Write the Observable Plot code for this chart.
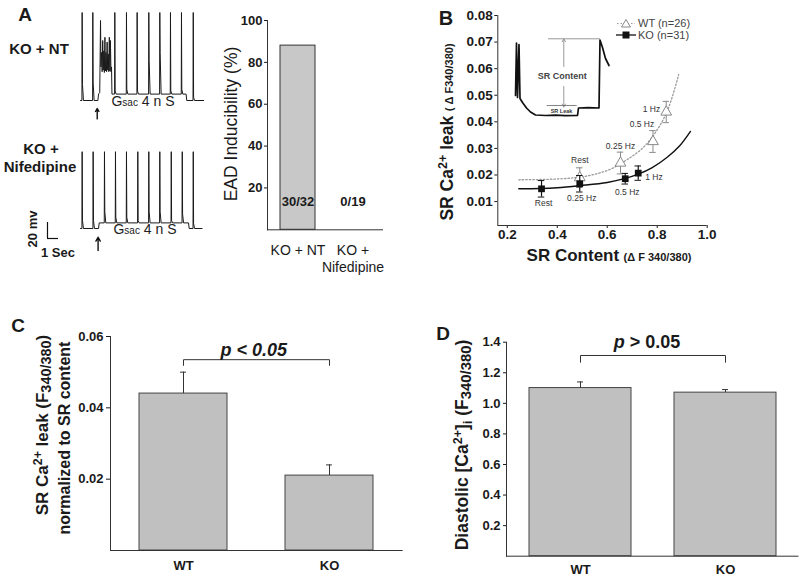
<!DOCTYPE html>
<html><head><meta charset="utf-8">
<script src="https://cdn.jsdelivr.net/npm/d3@7"></script>
<script src="https://cdn.jsdelivr.net/npm/@observablehq/plot@0.6"></script>
<style>
body{margin:0;background:#fff;}
#fig{position:relative;width:800px;height:580px;overflow:hidden;font-family:"Liberation Sans",Arial,sans-serif;color:#1a1a1a;background:#fff;}
.lbl{position:absolute;white-space:nowrap;line-height:1;}
.ctr{transform:translate(-50%,-50%);}
.rot{transform:translate(-50%,-50%) rotate(-90deg);}
.sup{font-size:0.72em;position:relative;top:-0.5em;}
.sub{font-size:0.85em;position:relative;top:0.2em;}
</style></head><body><div id="fig"></div>
<script>
// ---------- Panel A: action potential traces ----------
const ntSpikeTimes = [0.15, 1.12, 3.12, 4.18, 5.15, 6.21, 7.21, 8.18, 9.18, 10.25];
const ntAfterPeaks = [-60, -58, -68, -66, -68, -30, -20, -68, -66, -76];
const ntBurstT = [1.75, 1.82, 1.86, 1.92, 1.97, 2.02, 2.07, 2.12, 2.17, 2.22, 2.27, 2.32, 2.37, 2.42, 2.47, 2.52, 2.57, 2.62, 2.67, 2.72, 2.77, 2.82, 2.86];
const ntBurstV = [-70, 20, -38, -20, -44, -5, -42, -18, -45, -1, -43, -20, -44, -7, -42, -22, -44, -1, -43, -5, -44, -38, -72];
const ntPeak = 30, ntRest = -80, ntGsacLevel = -72, ntGsacOn = 1.58, ntGsacOff = 9.6, ntEnd = 11.2;

const nifSpikeTimes = [0.15, 1.15, 2.18, 3.18, 4.18, 5.21, 6.21, 7.21, 8.25, 9.25, 10.25];
const nifAfterPeaks = [-70, -70, -59, -66, -66, -70, -59, -59, -70, -62, -74];
const nifPeak = 16, nifRest = -80, nifGsacLevel = -73, nifGsacOn = 1.64, nifGsacOff = 9.82, nifEnd = 11.05;

// ---------- Panel A: EAD inducibility ----------
const eadGroups = ["KO + NT", "KO + Nifedipine"];
const eadTickLabels = ["KO + NT", "KO +\nNifedipine"];
const eadPercent = [88, 0];
const eadCounts = ["30/32", "0/19"];
const eadTicks = [20, 40, 60, 80, 100];

// ---------- Panel B: leak vs SR content ----------
const rateLabels = ["Rest", "0.25 Hz", "0.5 Hz", "1 Hz"];
const koSRContent = [0.337, 0.49, 0.672, 0.724];
const koLeak = [0.0148, 0.0167, 0.0186, 0.0207];
const koLeakErr = [0.0031, 0.0031, 0.002, 0.0027];
const wtSRContent = [0.49, 0.653, 0.783, 0.836];
const wtLeak = [0.019, 0.0245, 0.0326, 0.0437];
const wtLeakErr = [0.0037, 0.0041, 0.0041, 0.004];
const koFitX = [0.246, 0.33, 0.4, 0.49, 0.6, 0.672, 0.724, 0.78, 0.84, 0.89, 0.933];
const koFitY = [0.0148, 0.0149, 0.0152, 0.016, 0.0172, 0.0187, 0.0203, 0.0228, 0.0267, 0.031, 0.0364];
const wtFitX = [0.246, 0.33, 0.42, 0.49, 0.56, 0.62, 0.68, 0.74, 0.79, 0.84, 0.886];
const wtFitY = [0.0182, 0.0183, 0.0186, 0.0192, 0.0205, 0.0225, 0.0258, 0.03, 0.0356, 0.044, 0.0578];
const bYTicks = [0.01, 0.02, 0.03, 0.04, 0.05, 0.06, 0.07, 0.08];
const bXTicks = [0.2, 0.4, 0.6, 0.8, 1.0];
// inset Ca transient (time, F340/380 ratio)
const insetT = [0.5, 0.6, 0.7, 0.85, 0.95, 1.2, 1.6, 2.0, 2.5, 3.5, 4.5, 5.5, 6.7, 6.8, 7.8, 8.85, 8.95, 9.2, 9.5, 9.85];
const insetRatio = [1.2, 1.725, 1.18, 1.71, 1.17, 1.13, 1.075, 1.035, 1.005, 1.0, 1.003, 0.998, 1.0, 1.075, 1.078, 1.075, 1.755, 1.68, 1.57, 1.5];

// ---------- Panel C ----------
const cGroups = ["WT", "KO"];
const cMean = [0.044, 0.021];
const cErr = [0.006, 0.003];
const cTicks = [0.02, 0.04, 0.06];

// ---------- Panel D ----------
const dGroups = ["WT", "KO"];
const dMean = [1.10, 1.07];
const dErr = [0.04, 0.02];
const dTicks = [0.2, 0.4, 0.6, 0.8, 1.0, 1.2, 1.4];

// ================= helpers =================
const fig = document.getElementById("fig");
const FONT = '"Liberation Sans", Arial, sans-serif';
function style(extra) { return Object.assign({fontFamily: FONT, fontSize: "13px", color: "#1a1a1a", background: "transparent", overflow: "visible"}, extra || {}); }
function place(node, left, top) { node.style.position = "absolute"; node.style.left = left + "px"; node.style.top = top + "px"; fig.appendChild(node); }
function label(html, x, y, cls, css) {
  const d = document.createElement("div");
  d.className = "lbl " + cls; d.innerHTML = html;
  d.style.left = x + "px"; d.style.top = y + "px";
  Object.assign(d.style, css || {});
  fig.appendChild(d);
}
function buildTrace({spikes, after, peak, rest, gsac, on, off, end, burstT = [], burstV = []}) {
  const base = t => (t >= on && t < off ? gsac : rest);
  const pts = [{t: 0, v: rest}, {t: on, v: rest}, {t: on + 0.06, v: gsac}, {t: off, v: gsac}, {t: off + 0.06, v: rest}, {t: end, v: rest}];
  spikes.forEach((s, i) => pts.push({t: s - 0.02, v: base(s)}, {t: s, v: peak}, {t: s + 0.03, v: after[i]}, {t: s + 0.12, v: base(s + 0.12)}));
  burstT.forEach((t, i) => pts.push({t, v: burstV[i]}));
  return pts.sort((a, b) => a.t - b.t);
}

// ================= Panel A traces =================
const ntTrace = buildTrace({spikes: ntSpikeTimes, after: ntAfterPeaks, peak: ntPeak, rest: ntRest, gsac: ntGsacLevel, on: ntGsacOn, off: ntGsacOff, end: ntEnd, burstT: ntBurstT, burstV: ntBurstV});
const nifTrace = buildTrace({spikes: nifSpikeTimes, after: nifAfterPeaks, peak: nifPeak, rest: nifRest, gsac: nifGsacLevel, on: nifGsacOn, off: nifGsacOff, end: nifEnd});

place(Plot.plot({
  width: 170, height: 130, margin: 0,
  x: {domain: [-3.636, 11.818], axis: null}, y: {domain: [-117.5, 45], axis: null},
  style: style(),
  marks: [
    Plot.line(ntTrace, {x: "t", y: "v", stroke: "#1a1a1a", strokeWidth: 1}),
    Plot.arrow([ntGsacOn], {x1: d => d - 0.06, x2: d => d - 0.06, y1: () => -103, y2: () => -90, stroke: "#111", strokeWidth: 1.4, headLength: 6})
  ]
}), 40, 0);

place(Plot.plot({
  width: 170, height: 130, margin: 0,
  x: {domain: [-3.636, 11.818], axis: null}, y: {domain: [-132.5, 30], axis: null},
  style: style(),
  marks: [
    Plot.line(nifTrace, {x: "t", y: "v", stroke: "#1a1a1a", strokeWidth: 1}),
    Plot.arrow([nifGsacOn], {x1: d => d - 0.04, x2: d => d - 0.04, y1: () => -107.5, y2: () => -91, stroke: "#111", strokeWidth: 1.4, headLength: 6}),
    // scale bar: 20 mV, 1 s
    Plot.ruleX([-3], {y1: -92.5, y2: -72.5, stroke: "#111", strokeWidth: 1.2}),
    Plot.ruleY([-92.5], {x1: -3, x2: -2, stroke: "#111", strokeWidth: 1.2})
  ]
}), 40, 140);

label("A", 25, 14, "ctr", {fontSize: "19px", fontWeight: "bold"});
label("KO + NT", 39, 48, "ctr", {fontSize: "15px", fontWeight: "bold"});
label("KO +", 41, 148, "ctr", {fontSize: "15px", fontWeight: "bold"});
label("Nifedipine", 40, 166, "ctr", {fontSize: "15px", fontWeight: "bold"});
label('G<span style="font-size:10px">sac</span> 4 n S', 143, 101, "ctr", {fontSize: "14px", color: "#222"});
label('G<span style="font-size:10px">sac</span> 4 n S', 145, 229, "ctr", {fontSize: "14px", color: "#222"});
label("20 mv", 32, 229, "rot", {fontSize: "13px", fontWeight: "bold"});
label("1 Sec", 58, 252, "ctr", {fontSize: "13px", fontWeight: "bold"});

// ================= Panel A bar =================
const eadData = eadGroups.map((g, i) => ({g, p: eadPercent[i], n: eadCounts[i]}));
place(Plot.plot({
  width: 200, height: 290, marginLeft: 67, marginRight: 17, marginTop: 20, marginBottom: 60.7,
  x: {domain: eadGroups, paddingInner: 0.364, paddingOuter: 0.22},
  y: {domain: [0, 100]},
  style: style(),
  marks: [
    Plot.barY(eadData, {x: "g", y: "p", fill: "#c8c8c8", stroke: "#333", strokeWidth: 1}),
    Plot.text(eadData, {x: "g", text: "n", frameAnchor: "bottom", dy: -24, fontWeight: "bold", fontSize: 13}),
    Plot.axisY({ticks: eadTicks, tickSize: 3, tickPadding: 2, label: null, fontWeight: "bold", fontSize: 13}),
    Plot.axisX({tickSize: 0, tickPadding: 13, label: null, fontSize: 14, lineHeight: 1.2, tickFormat: d => eadTickLabels[eadGroups.indexOf(d)]}),
    Plot.frame({anchor: "left", stroke: "#333"}),
    Plot.ruleY([0], {stroke: "#333"})
  ]
}), 200, 0);
label("EAD Inducibility (%)", 232, 124, "rot", {fontSize: "17.5px"});

// ================= Panel B =================
const koPts = koSRContent.map((x, i) => ({x, y: koLeak[i], e: koLeakErr[i], label: rateLabels[i]}));
const wtPts = wtSRContent.map((x, i) => ({x, y: wtLeak[i], e: wtLeakErr[i], label: rateLabels[i]}));
const koFit = koFitX.map((x, i) => ({x, y: koFitY[i]}));
const wtFit = wtFitX.map((x, i) => ({x, y: wtFitY[i]}));
const capHalf = 0.013;
const txt = {fontSize: 8.5, fill: "#333"};
place(Plot.plot({
  width: 400, height: 290, marginLeft: 97.3, marginRight: 93.3, marginTop: 15, marginBottom: 65,
  x: {domain: [0.162, 1.0]}, y: {domain: [0.001, 0.08]},
  style: style(),
  marks: [
    Plot.axisY({ticks: bYTicks, tickSize: 3, tickPadding: 2, tickFormat: ".2f", label: null, fontWeight: "bold", fontSize: 13.5}),
    Plot.axisX({ticks: bXTicks, tickSize: 3, tickPadding: 1, tickFormat: ".1f", label: null, fontWeight: "bold", fontSize: 13.5}),
    Plot.ruleX([0.162], {stroke: "#333"}),
    Plot.ruleY([0.001], {stroke: "#333"}),
    Plot.line(wtFit, {x: "x", y: "y", curve: "catmull-rom", stroke: "#9a9a9a", strokeWidth: 1.3, strokeDasharray: "1.5,2"}),
    Plot.line(koFit, {x: "x", y: "y", curve: "catmull-rom", stroke: "#111", strokeWidth: 1.4}),
    Plot.ruleX(wtPts, {x: "x", y1: d => d.y - d.e, y2: d => d.y + d.e, stroke: "#8a8a8a"}),
    Plot.ruleY(wtPts, {y: d => d.y + d.e, x1: d => d.x - capHalf, x2: d => d.x + capHalf, stroke: "#8a8a8a"}),
    Plot.ruleY(wtPts, {y: d => d.y - d.e, x1: d => d.x - capHalf, x2: d => d.x + capHalf, stroke: "#8a8a8a"}),
    Plot.dot(wtPts, {x: "x", y: "y", symbol: "triangle", r: 4, fill: "white", stroke: "#888", strokeWidth: 1}),
    Plot.ruleX(koPts, {x: "x", y1: d => d.y - d.e, y2: d => d.y + d.e, stroke: "#111", strokeWidth: 1.2}),
    Plot.ruleY(koPts, {y: d => d.y + d.e, x1: d => d.x - capHalf, x2: d => d.x + capHalf, stroke: "#111"}),
    Plot.ruleY(koPts, {y: d => d.y - d.e, x1: d => d.x - capHalf, x2: d => d.x + capHalf, stroke: "#111"}),
    Plot.dot(koPts, {x: "x", y: "y", symbol: "square", r: 3.8, fill: "#111"}),
    // rate labels
    Plot.text(koPts.filter(d => d.label !== "1 Hz"), {x: "x", y: "y", text: "label", dx: 2, dy: 14, ...txt}),
    Plot.text(koPts.filter(d => d.label === "1 Hz"), {x: "x", y: "y", text: "label", dx: 7, dy: 4.5, textAnchor: "start", ...txt}),
    Plot.text(wtPts.filter(d => d.label === "Rest" || d.label === "0.25 Hz"), {x: "x", y: "y", text: "label", dy: d => 0, ...txt, dy: -17}),
    Plot.text(wtPts.filter(d => d.label === "0.5 Hz"), {x: "x", y: "y", text: "label", dx: -11, dy: -17, ...txt}),
    Plot.text(wtPts.filter(d => d.label === "1 Hz"), {x: "x", y: "y", text: "label", dx: -6, dy: -3, textAnchor: "end", ...txt})
  ]
}), 400, 0);

// inset Ca transient
const insetData = insetT.map((t, i) => ({t, r: insetRatio[i]}));
const insetTop = d3.max(insetRatio) + 0.012;
place(Plot.plot({
  width: 110, height: 95, margin: 0,
  x: {domain: [0, 11], axis: null}, y: {domain: [0.9, 1.85], axis: null},
  style: style(),
  marks: [
    Plot.ruleY([insetTop], {x1: 3.8, x2: 9.0, stroke: "#999"}),
    Plot.arrow([5.33], {x1: d => d, x2: d => d, y1: () => 1.49, y2: () => insetTop, stroke: "#999", strokeWidth: 1, headLength: 5}),
    Plot.arrow([5.33], {x1: d => d, x2: d => d, y1: () => 1.29, y2: () => 1.085, stroke: "#999", strokeWidth: 1, headLength: 5}),
    Plot.text(["SR Content"], {x: () => 5.17, y: () => 1.39, fontSize: 9, fontWeight: "bold", fill: "#444"}),
    Plot.ruleY([1.1], {x1: 3.67, x2: 6.67, stroke: "#666", strokeWidth: 0.8}),
    Plot.text(["SR Leak"], {x: () => 5.1, y: () => 1.045, fontSize: 5.5, fontWeight: "bold", fill: "#333"}),
    Plot.line(insetData, {x: "t", y: "r", stroke: "#111", strokeWidth: 1.7})
  ]
}), 510, 30);

label("B", 446, 18, "ctr", {fontSize: "20px", fontWeight: "bold"});
label('<b style="font-size:17.5px">SR Ca<span class="sup">2+</span> leak</b> <span style="font-size:11px;font-weight:bold">( Δ F340/380)</span>', 448, 132, "rot", {});
label('<b style="font-size:17px">SR Content</b> <span style="font-size:11px;font-weight:bold">(Δ F 340/380)</span>', 609, 255, "ctr", {});
label(`<div style="display:flex;align-items:center;height:12px"><svg width="24" height="12"><line x1="3" x2="21" y1="6.5" y2="6.5" stroke="#999" stroke-dasharray="1.5,2"/><path d="M12,2.5 L16.5,10 L7.5,10Z" fill="#fff" stroke="#888"/></svg><span>WT (n=26)</span></div>
<div style="display:flex;align-items:center;height:12px"><svg width="24" height="12"><line x1="2" x2="22" y1="6" y2="6" stroke="#111" stroke-width="1.3"/><rect x="8.5" y="2.5" width="7" height="7" fill="#111"/></svg><span>KO (n=31)</span></div>`, 614, 17, "", {fontSize: "11px", color: "#444"});

// ================= Panel C =================
const cData = cGroups.map((g, i) => ({g, m: cMean[i], e: cErr[i]}));
const cBracket = [{g: "WT", y: 0.0519}, {g: "WT", y: 0.0535}, {g: "KO", y: 0.0535}, {g: "KO", y: 0.0519}];
place(Plot.plot({
  width: 403, height: 280, marginLeft: 110, marginRight: 0.3, marginTop: 36, marginBottom: 30,
  x: {domain: cGroups, paddingInner: 0.395, paddingOuter: 0.195},
  y: {domain: [0, 0.06]},
  style: style(),
  marks: [
    Plot.barY(cData, {x: "g", y: "m", fill: "#c0c0c0", stroke: "#444", strokeWidth: 1}),
    Plot.ruleX(cData, {x: "g", y1: "m", y2: d => d.m + d.e, stroke: "#333"}),
    Plot.tickY(cData, {x: "g", y: d => d.m + d.e, insetLeft: 41, insetRight: 41, stroke: "#333"}),
    Plot.line(cBracket, {x: "g", y: "y", stroke: "#333", strokeWidth: 1}),
    Plot.text(["p < 0.05"], {frameAnchor: "top", dx: -3, dy: 7, fontSize: 18, fontWeight: "bold", fontStyle: "italic"}),
    Plot.axisY({ticks: cTicks, tickSize: 4, tickPadding: 3, tickFormat: ".2f", label: null, fontWeight: "bold", fontSize: 13}),
    Plot.axisX({tickSize: 0, tickPadding: 10, label: null, fontWeight: "bold", fontSize: 13}),
    Plot.frame({anchor: "left", stroke: "#333"}),
    Plot.ruleY([0], {stroke: "#333"})
  ]
}), 0, 300);
label("C", 18, 325, "ctr", {fontSize: "19px", fontWeight: "bold"});
label('SR Ca<span class="sup">2+</span> leak (F<span class="sub">340/380</span>)', 42, 425, "rot", {fontSize: "17px", fontWeight: "bold"});
label("normalized to SR content", 65, 438, "rot", {fontSize: "16px", fontWeight: "bold"});

// ================= Panel D =================
const dData = dGroups.map((g, i) => ({g, m: dMean[i], e: dErr[i]}));
const dBracket = [{g: "WT", y: 1.269}, {g: "WT", y: 1.313}, {g: "KO", y: 1.313}, {g: "KO", y: 1.269}];
place(Plot.plot({
  width: 400, height: 280, marginLeft: 106, marginRight: 1.5, marginTop: 41.7, marginBottom: 24.3,
  x: {domain: dGroups, paddingInner: 0.296, paddingOuter: 0.153},
  y: {domain: [0, 1.4]},
  style: style(),
  marks: [
    Plot.barY(dData, {x: "g", y: "m", fill: "#c0c0c0", stroke: "#444", strokeWidth: 1}),
    Plot.ruleX(dData, {x: "g", y1: "m", y2: d => d.m + d.e, stroke: "#333"}),
    Plot.tickY(dData, {x: "g", y: d => d.m + d.e, insetLeft: 48, insetRight: 48, stroke: "#333"}),
    Plot.line(dBracket, {x: "g", y: "y", stroke: "#333", strokeWidth: 1}),
    Plot.axisY({ticks: dTicks, tickSize: 3, tickPadding: 3, tickFormat: ".1f", label: null, fontWeight: "bold", fontSize: 13}),
    Plot.axisX({tickSize: 0, tickPadding: 9, label: null, fontWeight: "bold", fontSize: 13}),
    Plot.frame({anchor: "left", stroke: "#333"}),
    Plot.ruleY([0], {stroke: "#333"})
  ]
}), 400, 300);
label("D", 443, 333, "ctr", {fontSize: "19px", fontWeight: "bold"});
label('Diastolic [Ca<span class="sup">2+</span>]<span class="sub" style="font-size:0.7em;top:0.35em">i</span> (F<span class="sub">340/380</span>)', 463, 445, "rot", {fontSize: "17.5px", fontWeight: "bold"});
label('<i>p</i> &gt; 0.05', 647, 342, "ctr", {fontSize: "18px", fontWeight: "bold"});
</script></body></html>
